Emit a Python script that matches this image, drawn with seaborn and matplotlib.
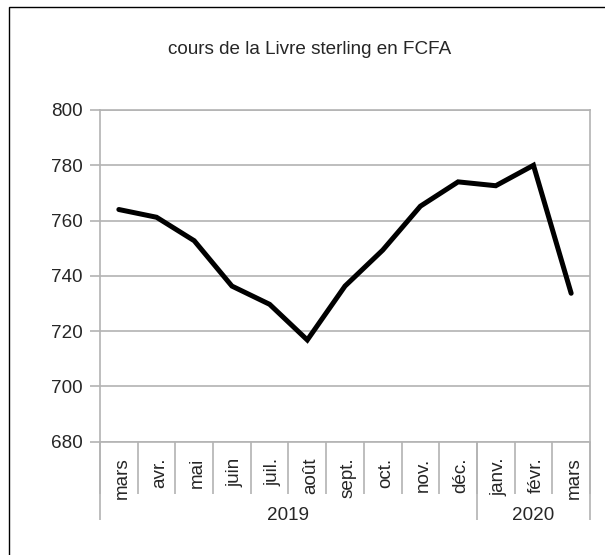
import matplotlib
matplotlib.use("Agg")
import matplotlib.pyplot as plt
import matplotlib.patches as mpatches
import matplotlib.transforms as mtransforms
import seaborn as sns
import numpy as np
import pandas as pd

# ---- data ----
months = ["mars", "avr.", "mai", "juin", "juil.", "août", "sept.", "oct.",
          "nov.", "déc.", "janv.", "févr.", "mars"]
years = ["2019", "2020"]
year_counts = [10, 3]
values = [764.0, 761.2, 752.7, 736.3, 729.7, 716.8, 736.3, 749.3,
          765.2, 774.0, 772.6, 780.0, 733.7]
title = "cours de la Livre sterling en FCFA"
yticks = [680, 700, 720, 740, 760, 780, 800]

sns.set_style("white")
plt.rcParams["font.family"] = ["Liberation Sans", "DejaVu Sans"]

W, H = 605, 555
DPI = 100
fig = plt.figure(figsize=(W / DPI, H / DPI), dpi=DPI)
ax = fig.add_axes([100 / W, 1 - 441.7 / H, 490 / W, (441.7 - 110) / H])

df = pd.DataFrame({"idx": np.arange(len(months)), "value": values})
sns.lineplot(data=df, x="idx", y="value", ax=ax, color="black",
             linewidth=3.6, solid_joinstyle="miter")

GRAY = "#b3b3b3"
FS = 13.6

ax.set_xlim(-0.5, len(months) - 0.5)
ax.set_ylim(680, 800)
ax.set_yticks(yticks)
ax.yaxis.grid(True, color=GRAY, linewidth=1.2)
ax.tick_params(axis="y", length=7.2, color=GRAY, width=1.2, pad=5.5,
               labelsize=FS, direction="out", left=True)
for s in ax.spines.values():
    s.set_color(GRAY)
    s.set_linewidth(1.2)
ax.set_xlabel("")
ax.set_ylabel("")

# month labels (major, no tick) and month separators (minor)
ax.set_xticks(np.arange(len(months)))
ax.set_xticklabels(months, rotation=90, fontsize=FS)
ax.tick_params(axis="x", which="major", length=0, pad=11.5, bottom=True)
shift = mtransforms.ScaledTranslation(3 / DPI, 0, fig.dpi_scale_trans)
for lbl in ax.get_xticklabels():
    lbl.set_transform(lbl.get_transform() + shift)
ax.set_xticks(np.arange(-0.5, len(months), 1.0), minor=True)
ax.tick_params(axis="x", which="minor", length=37.5, color=GRAY, width=1.2,
               direction="out", bottom=True)

# year level
sec = ax.secondary_xaxis("bottom")
bounds = np.concatenate([[0], np.cumsum(year_counts)]) - 0.5
mids = [(bounds[i] + bounds[i + 1]) / 2 for i in range(len(years))]
sec.set_xticks(bounds)
sec.set_xticklabels([""] * len(bounds))
sec.tick_params(axis="x", which="major", length=56, color=GRAY, width=1.2,
                direction="out")
sec.set_xticks(mids, minor=True)
sec.set_xticklabels(years, minor=True, fontsize=FS)
sec.tick_params(axis="x", which="minor", length=0, pad=47)
sec.spines["bottom"].set_visible(False)

fig.text(310 / W, 1 - 49 / H, title, ha="center", va="center", fontsize=FS)

# outer chart border
fig.patches.append(mpatches.Rectangle((8.5 / W, -0.2), 1.2, 1.2 - 7.3 / H,
                                      transform=fig.transFigure, fill=False,
                                      edgecolor="black", linewidth=1.0))

fig.savefig("out.png", dpi=DPI)
